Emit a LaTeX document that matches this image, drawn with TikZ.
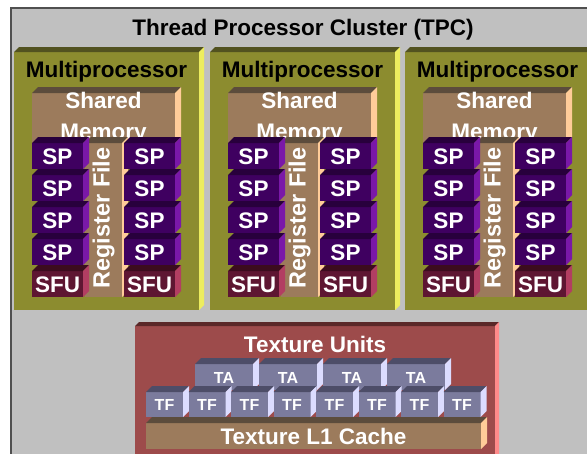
\documentclass[tikz,border=0pt]{standalone}
\usepackage{fontspec}
\setmainfont{Liberation Sans}
\definecolor{tpcfill}{HTML}{C0C0C0}
\definecolor{tpcline}{HTML}{505050}
\definecolor{mpF}{HTML}{8C8C2F}
\definecolor{mpT}{HTML}{525220}
\definecolor{mpS}{HTML}{EDED5E}
\definecolor{smF}{HTML}{9C7B5C}
\definecolor{smT}{HTML}{5C4C3C}
\definecolor{smS}{HTML}{FFCC99}
\definecolor{spF}{HTML}{3F0060}
\definecolor{spT}{HTML}{28003C}
\definecolor{spS}{HTML}{7A18A8}
\definecolor{sfF}{HTML}{5E1632}
\definecolor{sfT}{HTML}{3C0C1E}
\definecolor{sfS}{HTML}{B23E62}
\definecolor{tuF}{HTML}{7B7B9D}
\definecolor{tuT}{HTML}{4D4D68}
\definecolor{tuS}{HTML}{DCDCFF}
\definecolor{txF}{HTML}{9D4B4B}
\definecolor{txT}{HTML}{5A2828}
\definecolor{txS}{HTML}{FF8A8A}
% x y w h depth front top side
\newcommand\myblock[8]{%
  \fill[#6] (#1,#2) rectangle ++(#3,#4);
  \fill[#7] (#1,#2) -- ++(#5,-#5) -- ++(#3,0) -- ++(-#5,#5) -- cycle;
  \fill[#8] (#1+#3,#2) -- ++(#5,-#5) -- ++(0,#4) -- ++(-#5,#5) -- cycle;
}
\tikzset{
  big/.style={font=\fontsize{22.5}{26}\selectfont\bfseries, inner sep=0pt, anchor=base},
  wbig/.style={big, text=white},
  small/.style={font=\fontsize{16}{18}\selectfont\bfseries, inner sep=0pt, anchor=base, text=white}
}
\begin{document}
\begin{tikzpicture}[x=1pt,y=-1pt]
\useasboundingbox (0,0) rectangle (587,453);
\clip (0,0) rectangle (587,453);
\fill[white] (0,0) rectangle (587,453);
\filldraw[fill=tpcfill, draw=tpcline, line width=1.5pt] (11,8) rectangle (640,490);
\node[big] (title) at (303,35) {Thread Processor Cluster (TPC)};
\foreach \X [count=\i] in {14,210,405} {
  \myblock{\X}{52}{185}{258}{5}{mpF}{mpT}{mpS}
  \node[big] (mp\i) at (\X+92.5,77) {Multiprocessor};
  \myblock{\X+18}{93}{143}{50}{6}{smF}{smT}{smS}
  \node[wbig] (sma\i) at (\X+89.5,108) {Shared};
  \node[wbig] (smb\i) at (\X+89.5,139) {Memory};
  \myblock{\X+71}{143}{37}{154}{6}{smF}{smT}{smS}
  \node[wbig, font=\fontsize{23.5}{26}\selectfont\bfseries, rotate=90, anchor=center] (rf\i) at (\X+89.5,218) {Register File};
  \foreach \k in {0,...,3} {
    \myblock{\X+18}{143+32*\k}{51}{26}{6}{spF}{spT}{spS}
    \node[wbig] (spl\i\k) at (\X+43.5,164+32*\k) {SP};
    \myblock{\X+110}{143+32*\k}{51}{26}{6}{spF}{spT}{spS}
    \node[wbig] (spr\i\k) at (\X+135.5,164+32*\k) {SP};
  }
  \myblock{\X+18}{271}{51}{26}{6}{sfF}{sfT}{sfS}
  \node[wbig] (sfl\i) at (\X+43.5,292) {SFU};
  \myblock{\X+110}{271}{51}{26}{6}{sfF}{sfT}{sfS}
  \node[wbig] (sfr\i) at (\X+135.5,292) {SFU};
}
% Texture units
\myblock{135}{326}{360}{200}{4}{txF}{txT}{txS}
\node[wbig] (tu) at (315,352) {Texture Units};
\foreach \x [count=\j] in {195,259,323,387} {
  \myblock{\x}{364}{58}{26}{6}{tuF}{tuT}{tuS}
  \node[small] (ta\j) at (\x+29,383) {TA};
}
\foreach \x [count=\j] in {146,188.5,231,273.5,316,358.5,401,443.5} {
  \myblock{\x}{392}{37}{25}{6}{tuF}{tuT}{tuS}
  \node[small] (tf\j) at (\x+18.5,410) {TF};
}
\myblock{146}{423}{335}{26}{6}{smF}{smT}{smS}
\node[wbig] (l1) at (313.5,444) {Texture L1 Cache};
\end{tikzpicture}
\end{document}
